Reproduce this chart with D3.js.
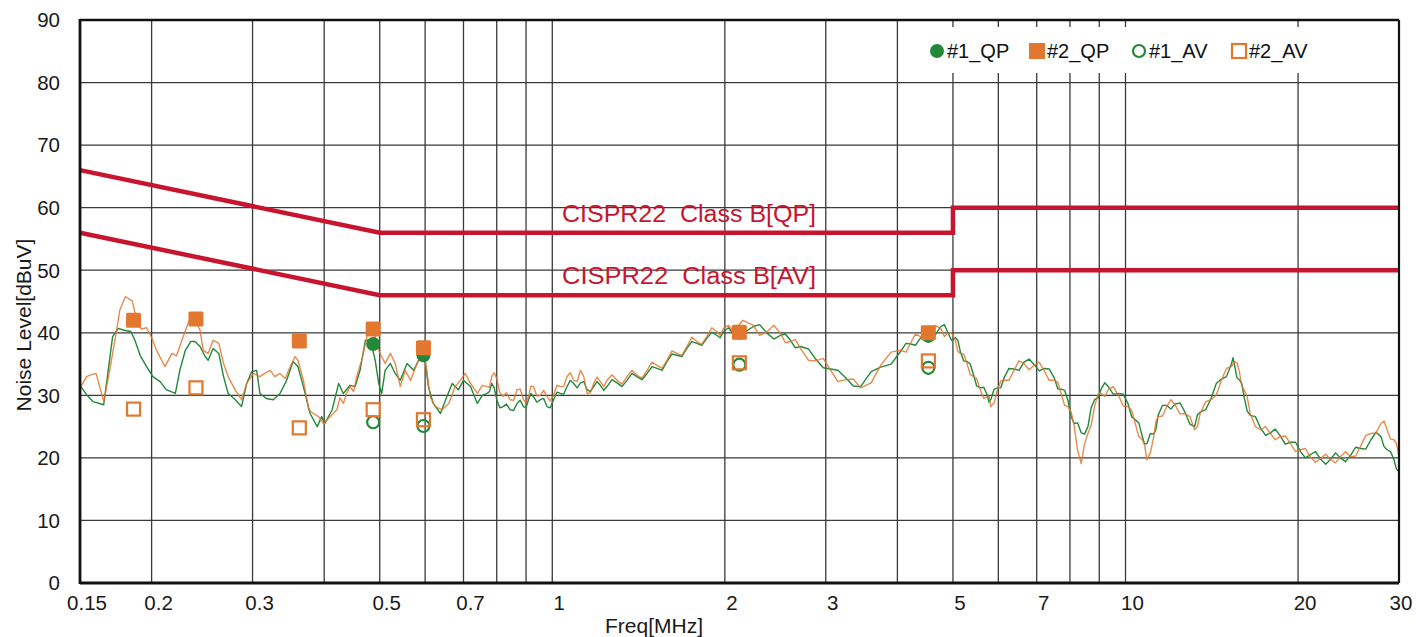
<!DOCTYPE html>
<html>
<head>
<meta charset="utf-8">
<script src="https://cdn.jsdelivr.net/npm/d3@7"></script>
<style>
  html, body { margin: 0; padding: 0; background: #ffffff; }
  svg { display: block; font-family: "Liberation Sans", Arial, sans-serif; }
</style>
</head>
<body>
<svg id="chart" width="1416" height="637"></svg>
<script>
// ---- axis definitions ----
const levelTicks = [0, 10, 20, 30, 40, 50, 60, 70, 80, 90];
const freqTickLabels = [0.15, 0.2, 0.3, 0.5, 0.7, 1, 2, 3, 5, 7, 10, 20, 30];
const freqGridLines = [0.2, 0.3, 0.4, 0.5, 0.6, 0.7, 0.8, 0.9, 1, 2, 3, 4, 5, 6, 7, 8, 9, 10, 20];

// ---- CISPR22 Class B limits [MHz, dBuV] ----
const limitQP = [[0.15, 66], [0.5, 56], [5, 56], [5, 60], [30, 60]];
const limitAV = [[0.15, 56], [0.5, 46], [5, 46], [5, 50], [30, 50]];
const limitLabels = ["CISPR22  Class B[QP]", "CISPR22  Class B[AV]"];
const limitLabelFreq = 1.04;

// ---- sweep #1 (green) [MHz, dBuV] ----
const sweep1 = [
  [0.150,31.6],[0.154,30.1],[0.158,29.0],[0.165,28.5],[0.168,34.0],[0.171,39.4],[0.175,40.7],
  [0.179,40.4],[0.184,40.2],[0.187,38.8],[0.191,36.4],[0.196,34.6],[0.201,33.0],[0.207,32.2],
  [0.212,30.9],[0.220,30.3],[0.224,34.0],[0.229,37.2],[0.234,38.6],[0.238,38.6],[0.243,37.8],
  [0.248,36.2],[0.251,35.6],[0.256,37.5],[0.262,36.7],[0.267,33.0],[0.272,30.3],[0.280,29.3],
  [0.287,28.2],[0.293,31.9],[0.299,33.8],[0.305,34.0],[0.309,30.3],[0.317,29.5],[0.326,29.3],
  [0.335,30.3],[0.344,32.4],[0.353,35.4],[0.360,34.6],[0.368,31.4],[0.378,27.1],[0.389,25.0],
  [0.396,26.6],[0.401,25.5],[0.413,27.7],[0.424,31.9],[0.432,30.3],[0.444,31.6],[0.453,31.4],
  [0.462,34.0],[0.472,38.8],[0.482,38.8],[0.491,35.6],[0.498,31.9],[0.504,30.3],[0.511,34.0],
  [0.522,35.1],[0.532,33.5],[0.543,32.4],[0.558,35.1],[0.573,34.0],[0.589,36.2],[0.600,35.6],
  [0.608,31.4],[0.620,28.7],[0.638,27.1],[0.655,29.8],[0.669,31.9],[0.686,30.9],[0.700,32.4],
  [0.720,31.4],[0.740,28.7],[0.755,30.0],[0.769,30.3],[0.777,30.6],[0.784,31.9],[0.792,31.2],
  [0.800,29.3],[0.810,28.0],[0.821,28.2],[0.832,28.6],[0.844,27.7],[0.856,27.6],[0.868,28.7],
  [0.879,29.2],[0.891,28.2],[0.900,28.0],[0.909,29.3],[0.918,30.3],[0.927,29.8],[0.940,28.9],
  [0.953,29.3],[0.966,29.5],[0.979,28.2],[0.992,28.0],[1.005,29.3],[1.019,30.5],[1.033,30.3],
  [1.047,30.2],[1.061,31.4],[1.075,32.4],[1.090,31.9],[1.105,31.2],[1.120,32.0],[1.135,32.2],
  [1.150,30.9],[1.165,30.6],[1.181,31.4],[1.197,32.2],[1.213,31.6],[1.230,30.8],[1.246,31.4],
  [1.271,32.5],[1.297,32.0],[1.323,31.4],[1.350,32.4],[1.377,33.5],[1.405,33.0],[1.434,32.5],
  [1.463,33.5],[1.493,34.6],[1.523,34.3],[1.554,34.0],[1.585,35.4],[1.617,36.6],[1.650,36.4],
  [1.683,36.2],[1.717,37.5],[1.752,38.6],[1.787,38.3],[1.823,38.0],[1.860,39.1],[1.898,40.1],
  [1.936,39.6],[1.963,39.2],[1.990,40.2],[2.030,40.8],[2.071,39.8],[2.150,39.9],[2.243,41.0],
  [2.300,41.3],[2.372,39.9],[2.435,39.0],[2.501,39.6],[2.550,39.8],[2.603,38.8],[2.655,37.6],
  [2.71,37.8],[2.80,37.4],[2.88,35.8],[2.97,34.4],[3.06,34.2],[3.15,34.0],[3.25,32.8],
  [3.35,31.5],[3.45,31.4],[3.60,33.8],[3.74,34.5],[3.90,35.0],[4.05,37.0],[4.14,38.3],
  [4.22,38.2],[4.30,38.0],[4.39,39.2],[4.46,40.2],[4.53,39.8],[4.65,39.6],[4.76,41.0],
  [4.83,41.3],[4.89,40.2],[4.97,38.8],[5.05,39.2],[5.10,38.8],[5.15,37.0],[5.22,35.5],
  [5.29,35.4],[5.36,35.0],[5.43,33.3],[5.50,31.5],[5.58,31.2],[5.66,31.3],[5.74,30.0],
  [5.78,28.9],[5.82,29.3],[5.90,31.0],[5.98,31.2],[6.06,31.2],[6.14,32.8],[6.26,34.3],
  [6.39,34.2],[6.52,34.0],[6.65,35.3],[6.79,35.8],[6.93,34.9],[7.07,33.9],[7.21,34.3],
  [7.36,34.2],[7.51,32.8],[7.62,31.0],[7.72,31.0],[7.83,30.8],[7.93,29.3],[8.04,26.6],
  [8.14,25.5],[8.25,25.6],[8.37,24.0],[8.48,23.8],[8.60,25.0],[8.71,28.0],[8.83,29.3],
  [8.95,29.6],[9.08,31.1],[9.20,32.0],[9.33,31.4],[9.52,30.2],[9.72,30.3],[9.91,30.2],
  [10.1,28.7],[10.25,26.6],[10.4,26.1],[10.55,25.6],[10.7,23.4],[10.8,22.2],[10.9,22.3],
  [11.05,23.9],[11.2,23.8],[11.3,24.6],[11.4,26.8],[11.6,28.4],[11.8,28.4],[12.0,27.8],
  [12.2,28.6],[12.45,28.8],[12.7,27.3],[12.95,25.4],[13.2,25.0],[13.35,26.9],[13.5,27.3],
  [13.8,27.7],[14.1,29.5],[14.4,31.9],[14.7,32.6],[15.0,33.0],[15.3,35.0],[15.4,36.0],
  [15.5,34.8],[15.65,32.8],[15.8,32.5],[15.95,31.9],[16.1,29.8],[16.3,27.5],[16.5,26.8],
  [16.85,26.6],[17.2,24.8],[17.55,23.6],[17.9,24.0],[18.25,24.6],[18.6,23.6],[19.0,22.2],
  [19.4,22.5],[19.8,22.5],[20.2,21.0],[20.6,20.0],[21.0,20.5],[21.45,21.0],[21.9,19.8],
  [22.35,19.0],[22.8,19.8],[23.25,20.8],[23.7,20.0],[24.2,19.4],[24.7,20.4],[25.2,21.7],
  [25.7,21.5],[26.25,21.4],[26.8,22.9],[27.35,24.1],[27.9,23.4],[28.25,21.8],[28.6,21.3],
  [29.0,21.0],[29.4,19.7],[29.7,18.2],[30.0,17.8]
];

// ---- sweep #2 (orange) [MHz, dBuV] ----
const sweep2 = [
  [0.150,31.5],[0.151,31.6],[0.154,33.0],[0.158,33.4],[0.160,33.5],[0.165,29.0],[0.169,34.0],
  [0.173,39.4],[0.176,43.6],[0.180,45.8],[0.185,45.1],[0.189,41.5],[0.192,40.6],[0.196,40.8],
  [0.200,39.2],[0.204,37.2],[0.211,34.6],[0.217,36.7],[0.221,36.3],[0.227,39.4],[0.234,42.6],
  [0.238,42.0],[0.243,40.4],[0.246,37.2],[0.251,36.7],[0.256,38.8],[0.262,38.3],[0.267,35.1],
  [0.272,33.0],[0.280,30.8],[0.287,29.3],[0.293,31.9],[0.301,33.5],[0.309,33.0],[0.315,33.5],
  [0.322,34.0],[0.328,33.0],[0.335,33.5],[0.342,32.7],[0.349,34.6],[0.356,36.2],[0.360,35.6],
  [0.368,32.4],[0.376,27.7],[0.383,27.1],[0.391,26.6],[0.399,25.5],[0.410,26.6],[0.421,27.7],
  [0.426,29.6],[0.432,28.7],[0.438,30.4],[0.444,31.4],[0.450,30.6],[0.456,33.0],[0.465,35.6],
  [0.475,39.4],[0.485,41.0],[0.498,37.2],[0.504,36.2],[0.511,35.1],[0.522,36.7],[0.532,35.1],
  [0.543,31.4],[0.554,34.0],[0.566,32.4],[0.581,35.1],[0.596,37.2],[0.604,34.0],[0.612,29.8],
  [0.625,28.2],[0.642,27.7],[0.660,28.7],[0.677,31.4],[0.691,32.4],[0.705,33.5],[0.720,31.9],
  [0.740,30.3],[0.755,31.6],[0.769,31.4],[0.777,31.3],[0.784,33.0],[0.792,33.6],[0.800,32.7],
  [0.810,30.4],[0.821,29.8],[0.832,30.4],[0.844,29.3],[0.856,29.2],[0.868,30.9],[0.879,31.0],
  [0.891,29.3],[0.900,28.8],[0.909,29.8],[0.918,31.5],[0.927,31.4],[0.940,29.9],[0.953,30.0],
  [0.966,30.8],[0.979,29.8],[0.992,29.1],[1.005,30.0],[1.019,31.6],[1.033,31.4],[1.047,31.4],
  [1.061,33.0],[1.075,33.6],[1.090,32.4],[1.105,32.2],[1.120,34.0],[1.135,33.0],[1.150,30.3],
  [1.165,30.4],[1.181,31.9],[1.197,32.9],[1.213,32.2],[1.230,31.4],[1.246,32.4],[1.271,33.3],
  [1.297,32.4],[1.323,31.8],[1.350,33.0],[1.377,34.0],[1.405,33.2],[1.434,32.8],[1.463,34.0],
  [1.493,35.3],[1.523,34.8],[1.554,34.3],[1.585,35.6],[1.617,37.1],[1.650,36.7],[1.683,36.4],
  [1.717,37.8],[1.752,39.3],[1.787,38.6],[1.823,38.2],[1.860,39.4],[1.898,40.8],[1.936,40.2],
  [1.963,39.6],[1.990,40.7],[2.030,41.2],[2.071,40.2],[2.150,42.0],[2.243,41.2],[2.300,39.6],
  [2.372,40.2],[2.435,41.2],[2.501,39.9],[2.550,38.4],[2.603,38.6],[2.655,38.9],[2.71,37.5],
  [2.80,35.6],[2.88,35.5],[2.97,35.9],[3.06,34.0],[3.15,32.2],[3.25,32.5],[3.35,32.6],
  [3.45,31.2],[3.60,32.0],[3.74,34.8],[3.90,36.9],[4.05,37.2],[4.14,36.9],[4.22,38.4],
  [4.30,39.8],[4.39,39.4],[4.46,38.8],[4.53,40.0],[4.65,41.2],[4.76,40.7],[4.83,39.4],
  [4.89,39.9],[4.97,40.0],[5.05,38.8],[5.10,37.0],[5.15,36.7],[5.22,36.6],[5.29,35.1],
  [5.36,33.3],[5.43,33.0],[5.50,32.7],[5.58,30.9],[5.66,29.5],[5.74,29.8],[5.78,29.8],
  [5.82,28.2],[5.90,28.8],[5.98,30.9],[6.06,32.3],[6.14,32.4],[6.26,32.4],[6.39,34.0],
  [6.52,35.5],[6.65,35.1],[6.79,34.1],[6.93,34.8],[7.07,35.3],[7.21,34.0],[7.36,32.4],
  [7.51,32.4],[7.62,32.1],[7.72,30.3],[7.83,28.4],[7.93,28.2],[8.04,27.3],[8.14,25.0],
  [8.25,21.2],[8.37,19.1],[8.48,22.2],[8.60,23.9],[8.71,25.2],[8.83,28.2],[8.95,30.2],
  [9.08,30.3],[9.20,29.8],[9.33,30.9],[9.52,31.4],[9.72,30.0],[9.91,28.3],[10.1,28.2],
  [10.25,27.6],[10.4,25.5],[10.55,23.4],[10.7,22.9],[10.8,22.0],[10.9,19.7],[11.05,20.8],
  [11.2,23.4],[11.3,25.8],[11.4,26.6],[11.6,26.7],[11.8,28.2],[12.0,29.3],[12.2,28.5],
  [12.45,27.0],[12.7,27.1],[12.95,26.6],[13.2,24.5],[13.35,25.0],[13.5,27.1],[13.8,29.0],
  [14.1,29.3],[14.4,30.0],[14.7,32.4],[15.0,34.3],[15.3,34.6],[15.5,35.4],[15.65,35.2],
  [15.8,33.8],[15.95,31.5],[16.1,30.9],[16.3,29.8],[16.5,27.1],[16.85,25.0],[17.2,24.5],
  [17.55,25.0],[17.9,23.9],[18.25,22.9],[18.6,23.4],[19.0,23.5],[19.4,22.3],[19.8,21.0],
  [20.2,21.3],[20.6,21.5],[21.0,20.2],[21.45,19.3],[21.9,19.9],[22.35,20.6],[22.8,19.7],
  [23.25,19.2],[23.7,20.2],[24.2,21.0],[24.7,20.2],[25.2,20.3],[25.7,21.8],[26.25,23.6],
  [26.8,23.9],[27.35,24.0],[27.9,25.5],[28.25,25.9],[28.6,24.5],[29.0,23.0],[29.4,22.9],
  [29.7,22.3],[30.0,20.2]
];

// ---- spot readings [MHz, dBuV] ----
const qp1 = [[0.487, 38.2], [0.596, 36.4], [2.12, 40.0], [4.53, 39.5]];
const qp2 = [[0.186, 42.0], [0.239, 42.2], [0.362, 38.7], [0.487, 40.6], [0.596, 37.6], [2.12, 40.1], [4.53, 40.0]];
const av1 = [[0.487, 25.7], [0.596, 25.1], [2.12, 34.9], [4.53, 34.4]];
const av2 = [[0.186, 27.8], [0.239, 31.2], [0.362, 24.8], [0.487, 27.7], [0.596, 26.1], [2.12, 35.2], [4.53, 35.5]];

const legendNames = ["#1_QP", "#2_QP", "#1_AV", "#2_AV"];

// ---- drawing ----
const GREEN = "#22883a";
const ORANGE = "#e2772f";
const RED = "#c8152f";

const plot = { left: 80, right: 1399, top: 20, bottom: 583 };
const svg = d3.select("#chart");

const x = d3.scaleLog().domain([0.15, 30]).range([plot.left, plot.right]);
const y = d3.scaleLinear().domain([0, 90]).range([plot.bottom, plot.top]);

svg.append("rect").attr("width", 1416).attr("height", 637).attr("fill", "#ffffff");

svg.append("defs").append("clipPath").attr("id", "plotClip")
  .append("rect")
  .attr("x", plot.left).attr("y", plot.top)
  .attr("width", plot.right - plot.left).attr("height", plot.bottom - plot.top);

// grid
const grid = svg.append("g").attr("stroke", "#3a3a3a").attr("stroke-width", 1.3);
grid.selectAll("line.h").data(levelTicks.slice(1, -1)).join("line")
  .attr("x1", plot.left).attr("x2", plot.right)
  .attr("y1", d => y(d)).attr("y2", d => y(d));
grid.selectAll("line.v").data(freqGridLines).join("line")
  .attr("x1", d => x(d)).attr("x2", d => x(d))
  .attr("y1", plot.top).attr("y2", plot.bottom);

// sweeps
const line = d3.line().x(d => x(d[0])).y(d => y(d[1]));
const traces = svg.append("g").attr("clip-path", "url(#plotClip)").attr("fill", "none")
  .attr("stroke-linejoin", "round");
traces.append("path").datum(sweep1).attr("d", line)
  .attr("stroke", GREEN).attr("stroke-width", 1.4);
traces.append("path").datum(sweep2).attr("d", line)
  .attr("stroke", ORANGE).attr("stroke-width", 1.4).attr("stroke-opacity", 0.85);

// limit lines
const limits = svg.append("g").attr("fill", "none").attr("stroke", RED)
  .attr("stroke-width", 4.5).attr("stroke-linejoin", "miter");
[limitQP, limitAV].forEach(lim => limits.append("path").datum(lim).attr("d", line));

// limit labels: placed just above each limit at limitLabelFreq
function limitAt(lim, f) {
  for (let i = 0; i < lim.length - 1; i++) {
    const a = lim[i], b = lim[i + 1];
    if (f >= a[0] && f <= b[0] && a[0] !== b[0]) {
      const t = (Math.log(f) - Math.log(a[0])) / (Math.log(b[0]) - Math.log(a[0]));
      return a[1] + t * (b[1] - a[1]);
    }
  }
  return lim[lim.length - 1][1];
}
[limitQP, limitAV].forEach((lim, i) => {
  svg.append("text")
    .attr("x", x(limitLabelFreq))
    .attr("y", y(limitAt(lim, limitLabelFreq)) - 11)
    .attr("fill", RED)
    .attr("font-size", 23)
    .attr("textLength", 254)
    .attr("lengthAdjust", "spacingAndGlyphs")
    .style("white-space", "pre")
    .text(limitLabels[i]);
});

// spot readings
const marks = svg.append("g");
const R = 7, S = 15;
marks.selectAll("circle.qp1").data(qp1).join("circle")
  .attr("cx", d => x(d[0])).attr("cy", d => y(d[1])).attr("r", R)
  .attr("fill", GREEN);
marks.selectAll("rect.qp2").data(qp2).join("rect")
  .attr("x", d => x(d[0]) - S / 2).attr("y", d => y(d[1]) - S / 2)
  .attr("width", S).attr("height", S).attr("rx", 1.5)
  .attr("fill", ORANGE);
marks.selectAll("circle.av1").data(av1).join("circle")
  .attr("cx", d => x(d[0])).attr("cy", d => y(d[1])).attr("r", R - 1)
  .attr("fill", "none").attr("stroke", GREEN).attr("stroke-width", 2.2);
marks.selectAll("rect.av2").data(av2).join("rect")
  .attr("x", d => x(d[0]) - (S - 2) / 2).attr("y", d => y(d[1]) - (S - 2) / 2)
  .attr("width", S - 2).attr("height", S - 2)
  .attr("fill", "none").attr("stroke", ORANGE).attr("stroke-width", 2.2);

// legend
const legend = svg.append("g");
legend.append("rect").attr("x", 915).attr("y", 27).attr("width", 410).attr("height", 46)
  .attr("fill", "#ffffff");
const legendX = [937, 1037, 1139, 1239];
const legendY = 51;
const LS = 16;
legendNames.forEach((name, i) => {
  const cx = legendX[i];
  if (i === 0) legend.append("circle").attr("cx", cx).attr("cy", legendY).attr("r", R).attr("fill", GREEN);
  if (i === 1) legend.append("rect").attr("x", cx - LS / 2).attr("y", legendY - LS / 2)
    .attr("width", LS).attr("height", LS).attr("fill", ORANGE);
  if (i === 2) legend.append("circle").attr("cx", cx).attr("cy", legendY).attr("r", R - 1)
    .attr("fill", "none").attr("stroke", GREEN).attr("stroke-width", 2.2);
  if (i === 3) legend.append("rect").attr("x", cx - (LS - 2) / 2).attr("y", legendY - (LS - 2) / 2)
    .attr("width", LS - 2).attr("height", LS - 2)
    .attr("fill", "none").attr("stroke", ORANGE).attr("stroke-width", 2.2);
  legend.append("text").attr("x", cx + 10).attr("y", legendY + 7)
    .attr("font-size", 20).attr("fill", "#111").text(name);
});

// frame
const frame = svg.append("g").attr("stroke", "#111").attr("fill", "none");
frame.append("line").attr("x1", plot.left).attr("x2", plot.right).attr("y1", plot.top).attr("y2", plot.top).attr("stroke-width", 2.4);
frame.append("line").attr("x1", plot.right).attr("x2", plot.right).attr("y1", plot.top).attr("y2", plot.bottom).attr("stroke-width", 2.2);
frame.append("line").attr("x1", plot.left).attr("x2", plot.right).attr("y1", plot.bottom).attr("y2", plot.bottom).attr("stroke-width", 2.8);
frame.append("line").attr("x1", plot.left).attr("x2", plot.left).attr("y1", plot.top - 1).attr("y2", plot.bottom + 1).attr("stroke-width", 2.8);

// tick labels
const tickFont = 20.5;
svg.append("g").selectAll("text").data(levelTicks).join("text")
  .attr("x", plot.left - 20).attr("y", d => y(d))
  .attr("dy", "0.36em").attr("text-anchor", "end")
  .attr("font-size", tickFont).attr("fill", "#1a1a1a")
  .text(d => d);
svg.append("g").selectAll("text").data(freqTickLabels).join("text")
  .attr("x", d => Math.min(x(d) + 7, 1401)).attr("y", plot.bottom + 27)
  .attr("text-anchor", "middle")
  .attr("font-size", tickFont).attr("fill", "#1a1a1a")
  .text(d => d);

// axis titles
svg.append("text").attr("x", 654).attr("y", 633).attr("text-anchor", "middle")
  .attr("font-size", 21).attr("fill", "#1a1a1a").text("Freq[MHz]");
svg.append("text").attr("transform", "translate(24,325) rotate(-90)")
  .attr("text-anchor", "middle").attr("dy", "0.35em")
  .attr("font-size", 21).attr("fill", "#1a1a1a").text("Noise Level[dBuV]");
</script>
</body>
</html>
